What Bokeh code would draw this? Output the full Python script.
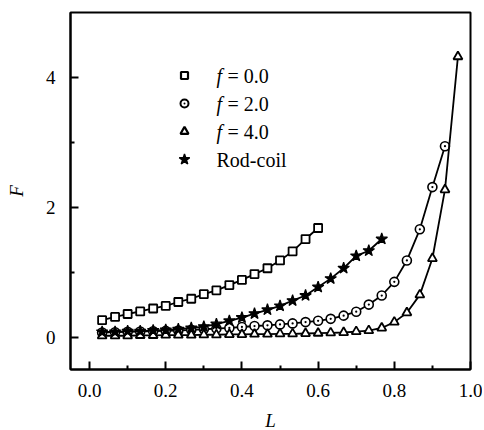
from bokeh.plotting import figure
from bokeh.models import Range1d, FixedTicker
from bokeh.embed import file_html
from bokeh.resources import INLINE
from bokeh.core.properties import value

# ---- data ----
L_f0 = [0.033, 0.067, 0.100, 0.133, 0.167, 0.200, 0.233, 0.267, 0.300, 0.333,
        0.367, 0.400, 0.433, 0.467, 0.500, 0.533, 0.567, 0.600]
F_f0 = [0.26, 0.31, 0.355, 0.395, 0.44, 0.48, 0.54, 0.59, 0.66, 0.72,
        0.80, 0.88, 0.97, 1.06, 1.18, 1.32, 1.51, 1.68]

L_f2 = [0.033, 0.067, 0.100, 0.133, 0.167, 0.200, 0.233, 0.267, 0.300, 0.333,
        0.367, 0.400, 0.433, 0.467, 0.500, 0.533, 0.567, 0.600, 0.633, 0.667,
        0.700, 0.733, 0.767, 0.800, 0.833, 0.867, 0.900, 0.933]
F_f2 = [0.07, 0.075, 0.08, 0.085, 0.09, 0.095, 0.10, 0.11, 0.12, 0.13,
        0.14, 0.155, 0.17, 0.18, 0.195, 0.21, 0.23, 0.25, 0.28, 0.33,
        0.39, 0.50, 0.64, 0.85, 1.18, 1.66, 2.31, 2.94]

L_f4 = [0.033, 0.067, 0.100, 0.133, 0.167, 0.200, 0.233, 0.267, 0.300, 0.333,
        0.367, 0.400, 0.433, 0.467, 0.500, 0.533, 0.567, 0.600, 0.633, 0.667,
        0.700, 0.733, 0.767, 0.800, 0.833, 0.867, 0.900, 0.933, 0.967]
F_f4 = [0.02, 0.02, 0.02, 0.025, 0.025, 0.03, 0.03, 0.03, 0.035, 0.035,
        0.04, 0.04, 0.045, 0.045, 0.05, 0.05, 0.055, 0.06, 0.065, 0.07,
        0.085, 0.10, 0.14, 0.23, 0.375, 0.65, 1.21, 2.27, 4.32]

L_rod = [0.033, 0.067, 0.100, 0.133, 0.167, 0.200, 0.233, 0.267, 0.300, 0.333,
         0.367, 0.400, 0.433, 0.467, 0.500, 0.533, 0.567, 0.600, 0.633, 0.667,
         0.700, 0.733, 0.767]
F_rod = [0.08, 0.08, 0.09, 0.09, 0.10, 0.11, 0.12, 0.14, 0.16, 0.20,
         0.25, 0.30, 0.36, 0.42, 0.48, 0.56, 0.64, 0.77, 0.90, 1.06,
         1.25, 1.33, 1.51]

x_ticks = [0.0, 0.2, 0.4, 0.6, 0.8, 1.0]
x_minor = [0.1, 0.3, 0.5, 0.7, 0.9]
y_ticks = [0, 2, 4]
y_minor = [1, 3]

legend_f_values = ["=  0.0", "=  2.0", "=  4.0"]
legend_rod = "Rod-coil"

FONT = "Liberation Serif"
FW, FH = 400, 357

p = figure(frame_width=FW, frame_height=FH,
           x_range=Range1d(-0.05, 1.0), y_range=Range1d(-0.5, 5.0),
           output_backend="svg", toolbar_location=None,
           min_border_left=70, min_border_top=12, min_border_right=12,
           min_border_bottom=58, background_fill_color="white",
           border_fill_color="white")
p.extra_x_ranges = {"px": Range1d(0, FW)}
p.extra_y_ranges = {"py": Range1d(0, FH)}

p.grid.visible = False
p.outline_line_color = "black"
p.outline_line_width = 2
p.outline_line_alpha = 1.0

for ax in (p.xaxis[0], p.yaxis[0]):
    ax.axis_line_width = 2
    ax.axis_line_color = "black"
    ax.major_tick_in = 8
    ax.major_tick_out = 0
    ax.minor_tick_in = 4
    ax.minor_tick_out = 0
    ax.major_tick_line_width = 2
    ax.minor_tick_line_width = 2
    ax.major_label_text_font = FONT
    ax.major_label_text_font_size = "19px"
    ax.major_label_text_color = "black"
    ax.axis_label_text_font = FONT
    ax.axis_label_text_font_style = "italic"
    ax.axis_label_text_font_size = "19px"
    ax.axis_label_text_color = "black"

p.xaxis.ticker = FixedTicker(ticks=x_ticks, minor_ticks=x_minor)
p.yaxis.ticker = FixedTicker(ticks=y_ticks, minor_ticks=y_minor)
p.xaxis.major_label_overrides = {0.0: "0.0", 0.2: "0.2", 0.4: "0.4", 0.6: "0.6", 0.8: "0.8", 1.0: "1.0"}
p.xaxis.axis_label = "L"
p.yaxis.axis_label = "F"
p.xaxis.major_label_standoff = 14
p.yaxis.major_label_standoff = 15
p.xaxis.axis_label_standoff = 10
p.yaxis.axis_label_standoff = 16

LW = 1.8
# series
p.line(L_f0, F_f0, line_color="black", line_width=LW)
p.scatter(L_f0, F_f0, marker="square", size=8, line_color="black",
          fill_color="white", line_width=1.8)

p.line(L_f2, F_f2, line_color="black", line_width=LW)
p.scatter(L_f2, F_f2, marker="circle_dot", size=9, line_color="black",
          fill_color="white", line_width=1.6)

p.line(L_f4, F_f4, line_color="black", line_width=LW)
p.scatter(L_f4, F_f4, marker="triangle", size=9, line_color="black",
          fill_color="white", line_width=1.8)

p.line(L_rod, F_rod, line_color="black", line_width=LW)
p.scatter(L_rod, F_rod, marker="star", size=12, line_color="black",
          fill_color="black", line_width=1.2)

# legend (positions in frame pixels)
mk_x = [114, 114, 114, 114]
mk_y = [FH - 63, FH - 91, FH - 119, FH - 147]
p.scatter([mk_x[0]], [mk_y[0]], marker="square", size=7, line_color="black",
          fill_color="white", line_width=2.2, x_range_name="px", y_range_name="py")
p.scatter([mk_x[1]], [mk_y[1]], marker="circle_dot", size=8, line_color="black",
          fill_color="white", line_width=2, x_range_name="px", y_range_name="py")
p.scatter([mk_x[2]], [mk_y[2]], marker="triangle", size=8, line_color="black",
          fill_color="white", line_width=2.2, x_range_name="px", y_range_name="py")
p.scatter([mk_x[3]], [mk_y[3]], marker="star", size=11, line_color="black",
          fill_color="black", line_width=1.4, x_range_name="px", y_range_name="py")

p.text([146] * 3, mk_y[:3], text=["f"] * 3, text_font=value(FONT),
       text_font_style="italic", text_font_size="20px", text_color="black",
       text_baseline="middle", text_align="left",
       x_range_name="px", y_range_name="py")
p.text([157] * 3, mk_y[:3], text=legend_f_values, text_font=value(FONT),
       text_font_size="20px", text_color="black",
       text_baseline="middle", text_align="left",
       x_range_name="px", y_range_name="py")
p.text([146], [mk_y[3]], text=[legend_rod], text_font=value(FONT),
       text_font_size="20px", text_color="black",
       text_baseline="middle", text_align="left",
       x_range_name="px", y_range_name="py")

open("out.html", "w").write(file_html(p, INLINE))
